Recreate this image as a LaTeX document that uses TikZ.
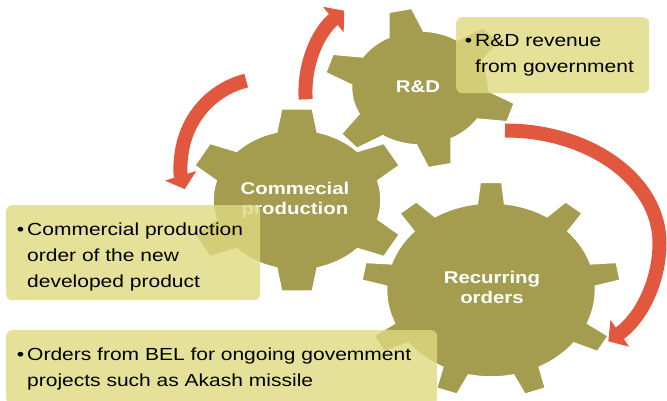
\documentclass[tikz,border=0pt]{standalone}
\usepackage{fontspec}
\setmainfont{Liberation Sans}[FakeStretch=1.2]
\usetikzlibrary{arrows.meta}

\definecolor{gearolive}{RGB}{164,157,79}
\definecolor{arrowred}{RGB}{226,88,63}
\definecolor{notefill}{RGB}{222,218,128}

\tikzset{
  gear/.style={fill=gearolive, draw=white, line width=1.5pt},
  geartext/.style={text=white, font=\fontsize{17}{20}\selectfont\bfseries, align=center},
  turnarrow/.style={draw=arrowred, line width=14pt, -{Triangle[length=14pt, width=32pt]}},
  notebox/.style={fill=notefill, fill opacity=0.8, text opacity=1, rounded corners=6pt,
    anchor=north west, inner ysep=0pt, align=left, font=\fontsize{17.5}{26}\selectfont}
}

% gear: centre x, centre y, body radius, tip radius, teeth, first tooth, base half angle, tip half angle
\newcommand{\gearshape}[8]{%
  \pgfmathsetmacro{\gstep}{360/#5}
  \begin{scope}[shift={(#1,#2)}, xscale=1.2]
    \filldraw[gear] ({#6-#7}:#3)
      \foreach \k in {1,...,#5} {
        -- ({#6+(\k-1)*\gstep-#8}:#4) -- ({#6+(\k-1)*\gstep+#8}:#4)
        -- ({#6+(\k-1)*\gstep+#7}:#3)
        arc[start angle={#6+(\k-1)*\gstep+#7}, end angle={#6+\k*\gstep-#7}, radius=#3]
      } -- cycle;
  \end{scope}
}
\newcommand{\noteline}[1]{\mbox{#1}}
\hfuzz=20pt

\begin{document}
\begin{tikzpicture}[x=1pt, y=1pt]
    \useasboundingbox (0, 0) rectangle (667, 401);

    % Gears
    \gearshape{491}{111}{87}{108}{9}{90}{7.5}{4.8}
    \gearshape{297}{201}{70}{92}{6}{90}{14}{8}
    \gearshape{420}{313}{57}{80}{6}{102}{15}{7}

    \node[geartext] (rdtext) at (418, 314) {R\&D};
    \node[geartext] (prodtext) at (295, 201) {Commecial\\production};
    \node[geartext] (ordertext) at (492, 114) {Recurring\\orders};

    % Arrows
    \coordinate (upstart) at (305.7, 301.7);
    \coordinate (leftstart) at (246.2, 320.4);
    \coordinate (rightstart) at (505, 270.5);
    \draw[turnarrow] (upstart) arc[start angle=184, end angle=129, radius=104.6];
    \draw[turnarrow] (leftstart) arc[start angle=104, end angle=197, radius=86];
    \draw[turnarrow] (rightstart) arc[start angle=90, end angle=0, x radius=154.5, y radius=112.5]
        arc[start angle=0, end angle=-55, radius=120];

    % Notes
    \node[notebox, text width=155pt, inner xsep=19pt, minimum height=76pt] (rdnote) at (456, 384)
        {\llap{\textbullet\hspace{3pt}}\noteline{R\&D revenue}\\\noteline{from government}};
    \node[notebox, text width=212pt, inner xsep=21pt, minimum height=95pt] (prodnote) at (6, 196)
        {\rule{0pt}{21pt}\llap{\textbullet\hspace{3pt}}\noteline{Commercial production}\\\noteline{order of the new}\\\noteline{developed product}};
    \node[notebox, text width=389pt, inner xsep=21pt, minimum height=74pt] (ordernote) at (6, 71)
        {\rule{0pt}{17pt}\llap{\textbullet\hspace{3pt}}\noteline{Orders from BEL for ongoing govemment}\\\noteline{projects such as Akash missile}};
\end{tikzpicture}
\end{document}
